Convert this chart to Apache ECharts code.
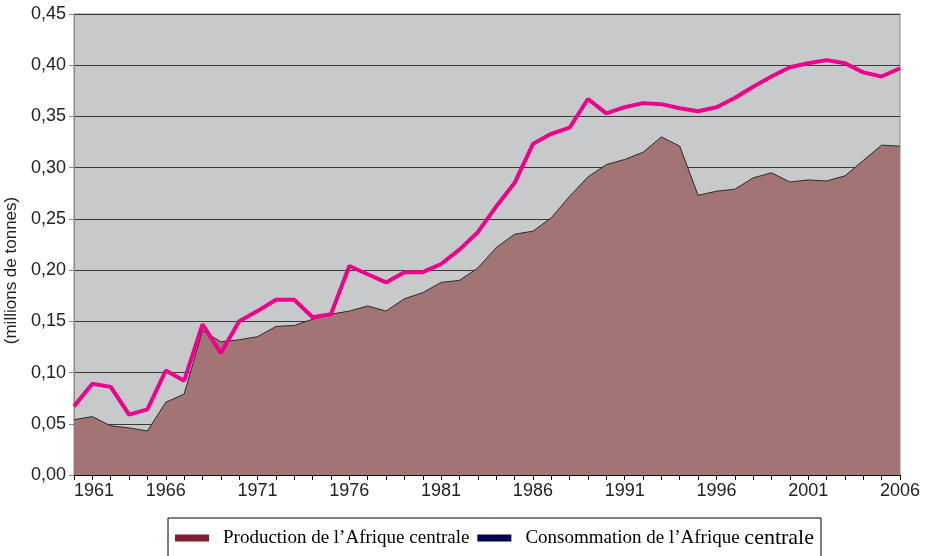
<!DOCTYPE html>
<html>
<head>
    <meta charset="utf-8">
    <title>ECharts</title>
    <style>
        html, body { margin: 0; padding: 0; background: #fff; }
        #main { width: 934px; height: 556px; }
    </style>
</head>
<body>
<div id="main"></div>
<script src="https://cdn.jsdelivr.net/npm/echarts@6/dist/echarts.min.js" type="text/javascript"></script>
<script type="text/javascript">

var years = [];
for (var y = 1961; y <= 2006; y++) years.push(String(y));

// production (millions de tonnes)
var production = [
    0.054, 0.057, 0.048, 0.046, 0.043, 0.071, 0.079, 0.141, 0.130, 0.132,
    0.135, 0.145, 0.146, 0.152, 0.157, 0.160, 0.165, 0.160, 0.172, 0.178,
    0.188, 0.190, 0.202, 0.222, 0.235, 0.238, 0.251, 0.272, 0.291, 0.303,
    0.308, 0.315, 0.330, 0.321, 0.273, 0.277, 0.279, 0.290, 0.295, 0.286,
    0.288, 0.287, 0.292, 0.307, 0.322, 0.321
];

// consommation (millions de tonnes)
var consommation = [
    0.067, 0.089, 0.086, 0.059, 0.064, 0.102, 0.092, 0.147, 0.119, 0.150,
    0.160, 0.171, 0.171, 0.154, 0.157, 0.204, 0.196, 0.188, 0.198, 0.198,
    0.206, 0.220, 0.237, 0.262, 0.285, 0.323, 0.333, 0.339, 0.367, 0.353,
    0.359, 0.363, 0.362, 0.358, 0.355, 0.359, 0.368, 0.379, 0.389, 0.398,
    0.402, 0.405, 0.402, 0.393, 0.389, 0.397
];

var seriesNames = ['Production de l’Afrique centrale', 'Consommation de l’Afrique centrale'];

var myChart = echarts.init(document.getElementById('main'));

var option = {
    backgroundColor: '#fff',
    animation: false,
    grid: {
        left: 74,
        right: 34,
        top: 14,
        bottom: 81,
        outerBoundsMode: 'none',
        containLabel: false,
        show: true,
        backgroundColor: '#c8c9cb',
        borderColor: '#888',
        borderWidth: 1
    },
    legend: {
        left: 168,
        top: 518,
        itemWidth: 34,
        itemHeight: 7,
        itemGap: 8,
        padding: [9, 7, 12, 7],
        borderColor: '#000',
        borderWidth: 1,
        borderRadius: 0,
        data: [
            { name: seriesNames[0], icon: 'rect', itemStyle: { color: '#7f2035' } },
            { name: seriesNames[1], icon: 'rect', itemStyle: { color: '#000050' } }
        ],
        formatter: function (name) {
            if (name == seriesNames[1]) return 'Consommation de l’Afrique {b|centrale}';
            return name;
        },
        textStyle: {
            fontFamily: 'Liberation Serif',
            fontSize: 19,
            color: '#000',
            padding: [0, 0, 0, 9],
            rich: {
                b: { fontFamily: 'Liberation Serif', fontSize: 22, color: '#000' }
            }
        }
    },
    xAxis: {
        type: 'category',
        data: years,
        boundaryGap: false,
        axisLine: { lineStyle: { color: '#111', width: 1 } },
        axisTick: { interval: 0, length: 5, lineStyle: { color: '#111' } },
        axisLabel: {
            interval: 4,
            margin: 7,
            alignMinLabel: 'left',
            fontFamily: 'Liberation Sans',
            fontSize: 18,
            color: '#222'
        },
        splitLine: { show: false }
    },
    yAxis: {
        type: 'value',
        min: 0,
        max: 0.45,
        interval: 0.05,
        name: '(millions de tonnes)',
        nameLocation: 'middle',
        nameRotate: 90,
        nameGap: 50,
        nameTextStyle: {
            fontFamily: 'Liberation Sans',
            fontSize: 17,
            color: '#222',
            padding: [0, 52, 0, 0]
        },
        axisLine: { show: true, lineStyle: { color: '#888' } },
        axisTick: { show: true, length: 5, lineStyle: { color: '#888' } },
        axisLabel: {
            margin: 8,
            fontFamily: 'Liberation Sans',
            fontSize: 18,
            color: '#222',
            formatter: function (v) { return v.toFixed(2).replace('.', ','); }
        },
        splitLine: { lineStyle: { color: '#3a3a3a', width: 1 } }
    },
    series: [{
        name: seriesNames[0],
        type: 'line',
        data: production,
        symbol: 'none',
        lineStyle: { color: '#2a2a2a', width: 1 },
        itemStyle: { color: '#7f2035' },
        areaStyle: { color: '#a37475', opacity: 1 },
        z: 2
    }, {
        name: seriesNames[1],
        type: 'line',
        data: consommation,
        symbol: 'none',
        lineStyle: { color: '#ec008c', width: 4 },
        itemStyle: { color: '#000050' },
        z: 3
    }]
};

myChart.setOption(option);
</script>
</body>
</html>
